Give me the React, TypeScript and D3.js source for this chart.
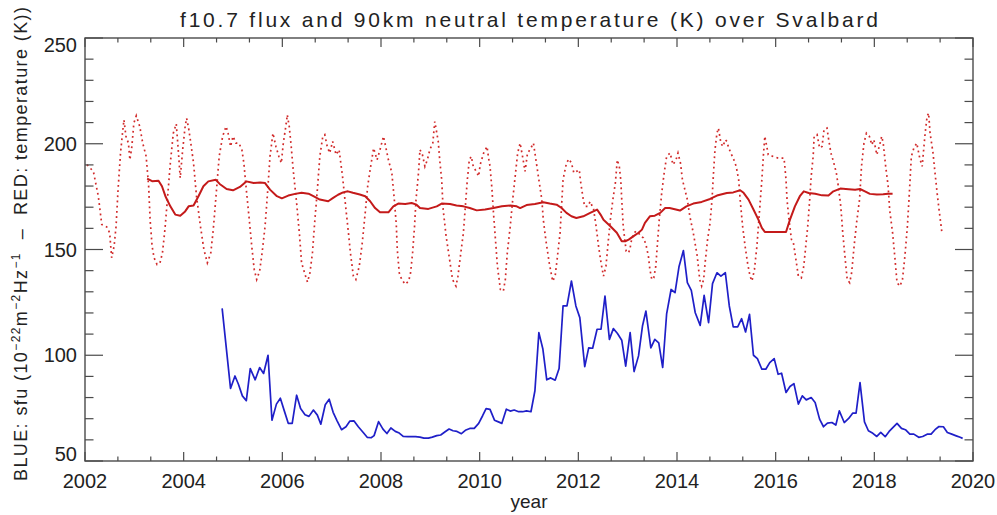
import React from "react";
import * as d3 from "d3";

// f10.7 solar flux (sfu), roughly monthly
const fluxYear = [
  2004.78, 2004.95, 2005.04, 2005.11, 2005.19, 2005.27, 2005.35, 2005.45, 2005.54, 2005.62, 2005.71, 2005.79,
  2005.88, 2005.96, 2006.04, 2006.12, 2006.20, 2006.29, 2006.37, 2006.46, 2006.54, 2006.63, 2006.71, 2006.78,
  2006.87, 2006.95, 2007.03, 2007.11, 2007.20, 2007.29, 2007.37, 2007.45, 2007.54, 2007.64, 2007.72, 2007.80,
  2007.86, 2007.95, 2008.04, 2008.12, 2008.20, 2008.29, 2008.37, 2008.45, 2008.54, 2008.62, 2008.70, 2008.79,
  2008.87, 2008.96, 2009.04, 2009.13, 2009.21, 2009.30, 2009.38, 2009.46, 2009.54, 2009.63, 2009.71, 2009.80,
  2009.89, 2009.98, 2010.06, 2010.13, 2010.21, 2010.30, 2010.38, 2010.45, 2010.54, 2010.62, 2010.70, 2010.79,
  2010.87, 2010.95, 2011.04, 2011.12, 2011.20, 2011.28, 2011.36, 2011.44, 2011.53, 2011.61, 2011.69, 2011.77,
  2011.86, 2011.95, 2012.03, 2012.13, 2012.21, 2012.29, 2012.38, 2012.46, 2012.54, 2012.63, 2012.71, 2012.79,
  2012.88, 2012.96, 2013.05, 2013.13, 2013.22, 2013.30, 2013.37, 2013.47, 2013.55, 2013.63, 2013.71, 2013.79,
  2013.88, 2013.96, 2014.04, 2014.13, 2014.21, 2014.29, 2014.37, 2014.47, 2014.55, 2014.64, 2014.72, 2014.81,
  2014.89, 2014.98, 2015.06, 2015.14, 2015.23, 2015.31, 2015.39, 2015.47, 2015.55, 2015.63, 2015.72, 2015.80,
  2015.88, 2015.97, 2016.05, 2016.12, 2016.21, 2016.29, 2016.37, 2016.46, 2016.54, 2016.62, 2016.72, 2016.80,
  2016.89, 2016.97, 2017.05, 2017.14, 2017.22, 2017.29, 2017.39, 2017.48, 2017.56, 2017.63, 2017.71, 2017.80,
  2017.88, 2017.97, 2018.05, 2018.13, 2018.22, 2018.30, 2018.38, 2018.46, 2018.55, 2018.63, 2018.72, 2018.80,
  2018.90, 2018.98, 2019.07, 2019.15, 2019.23, 2019.31, 2019.40, 2019.48, 2019.57, 2019.66, 2019.74, 2019.79,
];
const fluxValue = [
  122.2, 84.3, 90.2, 86.3, 80.8, 78.5, 93.7, 88.4, 94.2, 91.4, 100, 69.3,
  76.9, 79.7, 73.7, 67.8, 67.8, 81.1, 74.8, 71.9, 71.1, 74.1, 71.7, 67.4,
  76.6, 79.2, 73, 69, 64.8, 66.2, 68.9, 69, 66.2, 63.5, 61.2, 61,
  62, 68.6, 65.1, 63, 65.6, 64, 63.2, 61.6, 61.5, 61.5, 61.5, 61.3,
  60.8, 60.8, 61.3, 62, 62.3, 63.8, 65.1, 64.3, 64, 62.9, 64.5, 65.4,
  65.4, 67.8, 71.4, 74.8, 74.4, 69.3, 68.5, 67.8, 74.5, 73.6, 74.1, 73.3,
  73.3, 73.7, 73.3, 83.2, 110.7, 103.1, 88.4, 89.3, 88.2, 93.7, 123.3, 123.3,
  135.1, 123.3, 117.8, 94.6, 103.5, 103.3, 112.3, 112.3, 128, 107.5, 112.6, 110.4,
  107.1, 94.9, 110.7, 92.3, 99.7, 113.8, 120.9, 103.5, 107.5, 105.9, 94.2, 119.6,
  131.1, 129.6, 141.8, 149.5, 134.3, 130.7, 120.1, 114.1, 128.3, 115.4, 133.9, 139,
  137.4, 139, 123.3, 113.4, 113.4, 117.3, 111, 119.3, 100, 98.4, 93.4, 93.4,
  96.5, 98.4, 91, 91.5, 82.4, 85.2, 86.6, 76.9, 80.8, 78.9, 80, 77.7,
  69.8, 66.2, 67.9, 68.2, 67, 73.7, 68.2, 70.1, 72.6, 72.6, 87.1, 68.5,
  64.3, 63.1, 61.6, 63.5, 61.5, 64, 65.9, 67.8, 65.4, 64.8, 62.7, 62.7,
  61.2, 61.6, 62.7, 62.7, 64.8, 66.3, 66.2, 63.5, 62.7, 61.9, 61.2, 60.7,
];

// 90 km neutral temperature (K), monthly trace (dotted)
const tempYear = [
  2002.04, 2002.17, 2002.27, 2002.34, 2002.44, 2002.50, 2002.54, 2002.59, 2002.63, 2002.67, 2002.72, 2002.76,
  2002.79, 2002.83, 2002.88, 2002.91, 2002.95, 2002.99, 2003.04, 2003.11, 2003.17, 2003.24, 2003.29, 2003.32,
  2003.36, 2003.40, 2003.46, 2003.52, 2003.57, 2003.62, 2003.67, 2003.73, 2003.79, 2003.85, 2003.89, 2003.93,
  2003.98, 2004.03, 2004.06, 2004.10, 2004.14, 2004.20, 2004.26, 2004.34, 2004.41, 2004.48, 2004.55, 2004.60,
  2004.65, 2004.72, 2004.79, 2004.86, 2004.90, 2004.95, 2005.00, 2005.06, 2005.12, 2005.18, 2005.22, 2005.27,
  2005.33, 2005.38, 2005.43, 2005.48, 2005.54, 2005.59, 2005.65, 2005.70, 2005.75, 2005.81, 2005.87, 2005.93,
  2005.98, 2006.02, 2006.08, 2006.10, 2006.14, 2006.18, 2006.22, 2006.29, 2006.35, 2006.39, 2006.46, 2006.51,
  2006.56, 2006.61, 2006.66, 2006.71, 2006.76, 2006.82, 2006.86, 2006.91, 2006.96, 2007.02, 2007.09, 2007.15,
  2007.22, 2007.29, 2007.34, 2007.38, 2007.44, 2007.49, 2007.56, 2007.62, 2007.68, 2007.73, 2007.78, 2007.85,
  2007.92, 2007.98, 2008.05, 2008.08, 2008.15, 2008.22, 2008.27, 2008.31, 2008.33, 2008.37, 2008.42, 2008.49,
  2008.56, 2008.60, 2008.64, 2008.68, 2008.71, 2008.76, 2008.79, 2008.84, 2008.89, 2008.94, 2008.99, 2009.05,
  2009.09, 2009.12, 2009.16, 2009.19, 2009.23, 2009.26, 2009.32, 2009.39, 2009.45, 2009.52, 2009.56, 2009.61,
  2009.67, 2009.71, 2009.75, 2009.79, 2009.83, 2009.87, 2009.93, 2009.98, 2010.01, 2010.08, 2010.15, 2010.18,
  2010.21, 2010.25, 2010.28, 2010.32, 2010.36, 2010.42, 2010.48, 2010.52, 2010.56, 2010.62, 2010.67, 2010.72,
  2010.77, 2010.82, 2010.87, 2010.92, 2010.97, 2011.02, 2011.09, 2011.12, 2011.16, 2011.21, 2011.26, 2011.29,
  2011.34, 2011.41, 2011.48, 2011.53, 2011.57, 2011.63, 2011.66, 2011.69, 2011.76, 2011.81, 2011.86, 2011.91,
  2011.96, 2012.02, 2012.04, 2012.10, 2012.13, 2012.19, 2012.24, 2012.31, 2012.36, 2012.41, 2012.46, 2012.51,
  2012.56, 2012.61, 2012.65, 2012.70, 2012.75, 2012.79, 2012.83, 2012.86, 2012.88, 2012.91, 2012.97, 2013.02,
  2013.05, 2013.08, 2013.13, 2013.17, 2013.22, 2013.26, 2013.32, 2013.37, 2013.42, 2013.45, 2013.49, 2013.53,
  2013.57, 2013.60, 2013.64, 2013.69, 2013.74, 2013.79, 2013.86, 2013.92, 2013.98, 2014.02, 2014.07, 2014.11,
  2014.16, 2014.21, 2014.26, 2014.33, 2014.41, 2014.46, 2014.50, 2014.54, 2014.57, 2014.62, 2014.67, 2014.71,
  2014.74, 2014.77, 2014.81, 2014.84, 2014.89, 2014.93, 2014.98, 2015.01, 2015.04, 2015.09, 2015.14, 2015.20,
  2015.25, 2015.28, 2015.33, 2015.38, 2015.43, 2015.48, 2015.52, 2015.57, 2015.62, 2015.67, 2015.72, 2015.75,
  2015.78, 2015.82, 2015.85, 2015.95, 2016.05, 2016.17, 2016.21, 2016.23, 2016.27, 2016.32, 2016.36, 2016.41,
  2016.46, 2016.52, 2016.57, 2016.61, 2016.65, 2016.69, 2016.72, 2016.76, 2016.78, 2016.84, 2016.89, 2016.94,
  2016.98, 2017.04, 2017.07, 2017.12, 2017.17, 2017.23, 2017.27, 2017.32, 2017.36, 2017.41, 2017.45, 2017.50,
  2017.54, 2017.59, 2017.64, 2017.70, 2017.74, 2017.79, 2017.84, 2017.90, 2017.95, 2017.99, 2018.05, 2018.10,
  2018.15, 2018.18, 2018.23, 2018.28, 2018.31, 2018.37, 2018.42, 2018.46, 2018.52, 2018.57, 2018.62, 2018.67,
  2018.71, 2018.75, 2018.80, 2018.86, 2018.92, 2018.97, 2019.00, 2019.03, 2019.07, 2019.10, 2019.13, 2019.19,
  2019.23, 2019.28, 2019.32, 2019.37,
];
const tempValue = [
  190.1, 186.9, 175.2, 161.8, 160.7, 157.9, 146.1, 151.6, 161.0, 178.3, 195.6, 205.0,
  211.3, 203.5, 200.3, 192.4, 198.7, 209.7, 213.2, 208.2, 200.3, 194.0, 179.9, 164.1,
  151.6, 146.1, 142.9, 143.7, 148.4, 159.4, 173.6, 190.9, 205.0, 209.4, 197.2, 183.8,
  197.2, 208.2, 212.1, 207.4, 201.1, 190.9, 175.2, 161.0, 150.0, 143.7, 148.4, 159.4,
  173.6, 194.0, 203.5, 208.2, 205.0, 198.7, 203.5, 200.3, 200.3, 197.2, 190.9, 178.3,
  164.1, 151.6, 140.6, 135.8, 139.8, 148.4, 161.0, 176.7, 194.0, 205.0, 198.7, 194.0,
  190.9, 200.3, 209.7, 213.7, 208.2, 198.7, 187.7, 172.0, 156.3, 143.7, 138.2, 134.6,
  139.0, 148.4, 164.1, 178.3, 194.0, 203.5, 204.3, 198.7, 195.6, 201.1, 194.8, 197.2,
  184.6, 168.9, 157.9, 148.4, 137.4, 135.8, 142.1, 153.1, 167.3, 179.9, 187.7, 197.9,
  192.4, 197.2, 203.5, 200.3, 192.4, 186.2, 173.6, 161.8, 150.0, 139.0, 135.8, 133.5,
  135.0, 139.0, 148.4, 161.0, 173.6, 186.2, 197.2, 194.8, 189.3, 192.4, 197.2, 200.3,
  210.5, 206.6, 201.1, 192.4, 183.0, 168.9, 156.3, 145.3, 135.8, 132.7, 137.4, 146.9,
  157.9, 170.4, 183.0, 192.4, 194.0, 189.3, 186.9, 184.6, 190.1, 195.6, 198.7, 193.3,
  189.3, 178.3, 167.3, 154.7, 142.1, 131.1, 130.3, 135.8, 148.4, 161.0, 173.6, 184.6,
  195.6, 200.3, 193.9, 186.9, 195.6, 197.2, 200.3, 195.6, 189.3, 181.4, 173.6, 164.1,
  154.7, 143.7, 135.0, 137.4, 145.3, 157.9, 170.4, 183.0, 190.9, 192.8, 190.9, 186.2,
  186.9, 187.7, 183.0, 173.6, 170.4, 170.4, 172.7, 168.9, 161.0, 151.6, 143.7, 137.4,
  142.1, 154.7, 164.1, 173.6, 181.4, 192.4, 189.3, 183.0, 173.6, 160.9, 149.2, 148.4,
  150.8, 154.7, 157.9, 158.6, 157.9, 156.3, 155.5, 152.4, 146.9, 140.6, 135.8, 136.6,
  142.1, 151.6, 164.1, 176.7, 186.2, 194.0, 195.6, 190.1, 192.4, 195.6, 190.9, 183.0,
  178.3, 173.6, 165.7, 157.9, 146.9, 135.8, 132.7, 135.8, 143.7, 154.7, 162.6, 173.6,
  186.2, 197.2, 205.0, 207.4, 200.3, 198.7, 201.9, 201.1, 198.7, 195.6, 193.2, 189.3,
  182.9, 173.6, 161.0, 151.6, 143.7, 137.4, 135.1, 140.6, 151.6, 167.3, 183.0, 194.0,
  203.5, 198.7, 194.8, 194.0, 193.2, 193.2, 183.0, 173.6, 164.1, 154.7, 153.1, 145.3,
  137.4, 136.6, 142.1, 151.6, 161.0, 173.6, 184.6, 194.0, 203.5, 204.3, 198.0, 198.7,
  206.6, 207.4, 202.7, 195.6, 191.7, 186.2, 179.9, 170.4, 157.9, 145.3, 135.8, 134.3,
  139.0, 151.6, 162.6, 173.6, 189.3, 200.3, 205.0, 203.5, 199.5, 201.9, 194.8, 198.7,
  203.5, 200.3, 189.3, 179.9, 168.9, 157.9, 145.3, 134.3, 132.7, 135.8, 146.9, 161.0,
  176.7, 194.0, 197.9, 200.3, 193.2, 189.3, 197.2, 205.0, 212.9, 214.5, 205.0, 195.6,
  186.2, 175.2, 167.3, 157.9,
];

// smoothed (running mean) temperature
const smoothYear = [
  2003.26, 2003.36, 2003.49, 2003.56, 2003.63, 2003.73, 2003.83, 2003.93, 2004.03, 2004.10, 2004.20, 2004.30,
  2004.40, 2004.50, 2004.65, 2004.73, 2004.87, 2005.00, 2005.14, 2005.27, 2005.42, 2005.55, 2005.65, 2005.75,
  2005.89, 2005.99, 2006.12, 2006.26, 2006.39, 2006.53, 2006.63, 2006.76, 2006.93, 2007.03, 2007.13, 2007.23,
  2007.33, 2007.43, 2007.57, 2007.68, 2007.78, 2007.88, 2007.98, 2008.15, 2008.25, 2008.35, 2008.49, 2008.62,
  2008.72, 2008.79, 2008.96, 2009.13, 2009.23, 2009.40, 2009.53, 2009.67, 2009.80, 2009.94, 2010.11, 2010.28,
  2010.45, 2010.62, 2010.75, 2010.82, 2010.95, 2011.12, 2011.29, 2011.42, 2011.56, 2011.66, 2011.76, 2011.86,
  2011.96, 2012.10, 2012.24, 2012.38, 2012.45, 2012.51, 2012.65, 2012.78, 2012.88, 2012.95, 2013.02, 2013.12,
  2013.22, 2013.29, 2013.35, 2013.45, 2013.55, 2013.66, 2013.76, 2013.85, 2014.06, 2014.19, 2014.33, 2014.50,
  2014.67, 2014.81, 2015.01, 2015.14, 2015.28, 2015.35, 2015.45, 2015.55, 2015.65, 2015.72, 2015.78, 2015.99,
  2016.21, 2016.29, 2016.39, 2016.49, 2016.57, 2016.67, 2016.80, 2016.94, 2017.07, 2017.17, 2017.31, 2017.48,
  2017.61, 2017.71, 2017.81, 2017.91, 2018.05, 2018.18, 2018.28, 2018.37,
];
const smoothValue = [
  183.5, 182.3, 182.5, 179.9, 175.2, 170.4, 166.5, 166.0, 168.0, 170.4, 170.8, 175.2,
  179.9, 182.2, 183.0, 181.0, 178.6, 178.0, 179.6, 182.2, 181.4, 181.7, 181.4, 178.3,
  175.2, 174.2, 175.5, 176.3, 176.8, 176.4, 175.2, 173.6, 172.8, 174.4, 175.9, 177.0,
  177.5, 176.8, 176.0, 175.2, 172.8, 169.6, 167.6, 167.6, 170.4, 171.7, 171.5, 172.0,
  171.2, 169.6, 169.2, 170.4, 171.7, 171.5, 170.8, 170.4, 169.6, 168.5, 168.9, 169.6,
  170.4, 170.8, 170.4, 169.6, 171.0, 171.5, 172.3, 171.7, 171.2, 169.6, 167.3, 165.7,
  164.9, 165.7, 167.3, 168.9, 166.5, 164.1, 161.0, 157.9, 153.9, 153.9, 154.7, 156.3,
  157.9, 159.4, 162.6, 165.7, 166.0, 167.3, 169.6, 169.6, 168.4, 170.4, 171.7, 172.5,
  173.9, 175.5, 176.7, 177.0, 178.0, 176.8, 173.6, 168.9, 164.1, 160.2, 158.3, 158.3,
  158.3, 164.1, 170.4, 175.2, 177.5, 176.7, 176.4, 175.6, 175.5, 177.5, 178.8, 178.5,
  178.3, 178.6, 177.5, 176.3, 176.0, 176.1, 176.4, 176.4,
];

const xMajor = [2002, 2004, 2006, 2008, 2010, 2012, 2014, 2016, 2018, 2020];
const yMajor = [50, 100, 150, 200, 250];

const W = 997;
const H = 515;
const left = 85;
const right = 973;
const top = 38;
const bottom = 461;

const frame = "#4a4a4a";
const font = "'Liberation Sans', Arial, sans-serif";

export default function App() {
  const x = d3.scaleLinear().domain([2002, 2020]).range([left, right]);
  const y = d3.scaleLinear().domain([50, 250]).range([bottom, top]);

  const line = d3
    .line<[number, number]>()
    .x((d) => x(d[0]))
    .y((d) => y(d[1]));

  const flux = fluxYear.map((t, i) => [t, fluxValue[i]] as [number, number]);
  const temp = tempYear.map((t, i) => [t, tempValue[i]] as [number, number]);
  const smooth = smoothYear.map((t, i) => [t, smoothValue[i]] as [number, number]);

  // minor ticks: 3 per 2-year interval on x, every 10 on y
  const xMinor = d3.range(0, 28).map((i) => 2002 + (i * 2) / 3).filter((v) => v < 2020.01);
  const yMinor = d3.range(50, 251, 10);

  return (
    <svg width={W} height={H} style={{ position: "absolute", left: 0, top: 0, background: "#fff" }}>
      <rect x={0} y={0} width={W} height={H} fill="#fff" />
      <text x={(left + right) / 2} y={27} textAnchor="middle" fontFamily={font} fontSize={21}
        textLength={698} lengthAdjust="spacing" fill="#222">
        f10.7 flux and 90km neutral temperature (K) over Svalbard
      </text>

      {/* data */}
      <path d={line(temp) ?? ""} fill="none" stroke="#d12a2a" strokeWidth={1.7} strokeDasharray="1.8,3.4" />
      <path d={line(smooth) ?? ""} fill="none" stroke="#c41a1a" strokeWidth={2} strokeLinejoin="round" />
      <path d={line(flux) ?? ""} fill="none" stroke="#1f1fc8" strokeWidth={1.7} strokeLinejoin="round" />

      {/* frame */}
      <rect x={left} y={top} width={right - left} height={bottom - top} fill="none" stroke={frame} strokeWidth={1.4} />
      {xMinor.map((v) => {
        const major = xMajor.some((m) => Math.abs(m - v) < 1e-6);
        const len = major ? 9 : 4.5;
        return (
          <g key={"xt" + v} stroke={frame} strokeWidth={1.2}>
            <line x1={x(v)} x2={x(v)} y1={bottom} y2={bottom - len} />
            <line x1={x(v)} x2={x(v)} y1={top} y2={top + len} />
          </g>
        );
      })}
      {yMinor.map((v) => {
        const major = yMajor.includes(v);
        const len = major ? 18 : 8.5;
        return (
          <g key={"yt" + v} stroke={frame} strokeWidth={1.2}>
            <line x1={left} x2={left + len} y1={y(v)} y2={y(v)} />
            <line x1={right} x2={right - len} y1={y(v)} y2={y(v)} />
          </g>
        );
      })}

      {/* tick labels */}
      {xMajor.map((v) => (
        <text key={"xl" + v} x={x(v)} y={488} textAnchor="middle" fontFamily={font} fontSize={20} fill="#222">
          {v}
        </text>
      ))}
      {yMajor.map((v, i) => {
        const yy = i === yMajor.length - 1 ? y(v) + 14 : i === 0 ? y(v) : y(v) + 7;
        return (
          <text key={"yl" + v} x={77} y={yy} textAnchor="end" fontFamily={font} fontSize={20} fill="#222">
            {v}
          </text>
        );
      })}

      <text x={(left + right) / 2} y={508} textAnchor="middle" fontFamily={font} fontSize={19} fill="#222">
        year
      </text>

      <text transform="translate(27,244) rotate(-90)" textAnchor="middle" fontFamily={font} fontSize={18}
        fill="#222" style={{ whiteSpace: "pre" }} textLength={474} lengthAdjust="spacing">
        BLUE: sfu (10
        <tspan fontSize={12} dy={-7}>−22</tspan>
        <tspan dy={7}>m</tspan>
        <tspan fontSize={12} dy={-7}>−2</tspan>
        <tspan dy={7}>Hz</tspan>
        <tspan fontSize={12} dy={-7}>−1</tspan>
        <tspan dy={7}>{"  –  RED: temperature (K))"}</tspan>
      </text>
    </svg>
  );
}
